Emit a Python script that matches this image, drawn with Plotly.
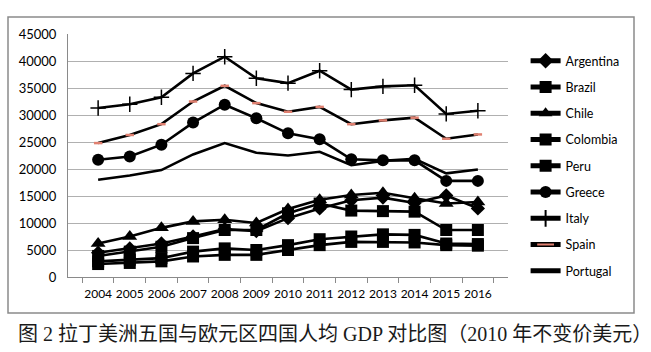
import plotly.graph_objects as go

years = ["2004","2005","2006","2007","2008","2009","2010","2011","2012","2013","2014","2015","2016"]

argentina = [4500, 5300, 6200, 7500, 8900, 8500, 10900, 12700, 14200, 14700, 13700, 15100, 12700]
brazil    = [3900, 4700, 5600, 7200, 8700, 8700, 11800, 13600, 12300, 12200, 12100, 8700, 8700]
chile     = [6200, 7500, 9100, 10300, 10600, 10000, 12600, 14300, 15200, 15600, 14600, 13600, 13900]
colombia  = [2900, 3200, 3500, 4700, 5300, 5000, 5900, 7000, 7500, 7900, 7800, 6200, 6100]
peru      = [2400, 2600, 2900, 3800, 4100, 4100, 5000, 5900, 6500, 6500, 6400, 5900, 5800]
greece    = [21700, 22300, 24500, 28600, 31900, 29400, 26600, 25500, 21800, 21600, 21600, 17800, 17800]
italy     = [31300, 32000, 33300, 37700, 40800, 36800, 35900, 38200, 34700, 35300, 35500, 30200, 30800]
spain     = [24800, 26300, 28300, 32500, 35400, 32200, 30600, 31500, 28300, 29000, 29500, 25600, 26400]
portugal  = [18000, 18800, 19800, 22700, 24800, 23000, 22500, 23200, 20700, 21500, 21900, 19200, 19900]

series = [
    ("Argentina", argentina, dict(symbol="diamond", size=11, color="black")),
    ("Brazil", brazil, dict(symbol="square", size=12, color="black")),
    ("Chile", chile, dict(symbol="triangle-up", size=13, color="black")),
    ("Colombia", colombia, dict(symbol="square", size=12, color="black")),
    ("Peru", peru, dict(symbol="square", size=12, color="black")),
    ("Greece", greece, dict(symbol="circle", size=12, color="black")),
    ("Italy", italy, dict(symbol="cross-thin", size=11, color="black", line=dict(color="black", width=1.5))),
    ("Spain", spain, dict(symbol="line-ew", size=6, color="#f4a090", line=dict(color="#e08070", width=2.5))),
    ("Portugal", portugal, None),
]

fig = go.Figure()
for i, (name, vals, mk) in enumerate(series):
    kw = {}
    if mk is None:
        mode = "lines"
    else:
        mode = "lines+markers"
        kw["marker"] = mk
    fig.add_trace(go.Scatter(x=years, y=vals, name=name, mode=mode,
                             line=dict(color="black", width=2.6),
                             legendgroup=name, **kw))

fig.add_shape(type="rect", xref="paper", yref="paper",
              x0=-60/440, x1=566/440, y0=-36/243, y1=260/243,
              line=dict(color="#8a8a8a", width=1.5), layer="below")

fig.add_annotation(text="图 2 拉丁美洲五国与欧元区四国人均 GDP 对比图（2010 年不变价美元）",
                   xref="paper", yref="paper", x=-52/440, y=-57/243,
                   xanchor="left", yanchor="middle", showarrow=False,
                   font=dict(family="Liberation Serif, Noto Sans CJK SC", size=20, color="#1a1a1a"))

fig.update_layout(
    width=651, height=352,
    margin=dict(l=68, r=143, t=34, b=75),
    paper_bgcolor="white", plot_bgcolor="white",
    font=dict(family="Lato", size=12, color="black"),
    showlegend=True,
    legend=dict(x=1.04, y=0.95, xanchor="left", yanchor="top",
                font=dict(family="Lato", size=12.5, color="black"),
                itemsizing="constant",
                tracegroupgap=7, bgcolor="rgba(0,0,0,0)"),
    xaxis=dict(type="category", showgrid=False, showline=True, linecolor="#8a8a8a",
               linewidth=1, ticks="outside", tickson="boundaries", ticklen=5,
               ticklabelstandoff=6,
               tickangle=0, tickcolor="#8a8a8a", tickfont=dict(family="Lato", size=12)),
    yaxis=dict(range=[0, 45000], dtick=5000, showgrid=True, gridcolor="#b0b0b0",
               gridwidth=1, showline=True, linecolor="#8a8a8a", linewidth=1,
               ticklabelstandoff=8,
               tickformat="d", ticks="", tickfont=dict(family="Lato", size=13), zeroline=False),
)

fig.write_html("out.html")
